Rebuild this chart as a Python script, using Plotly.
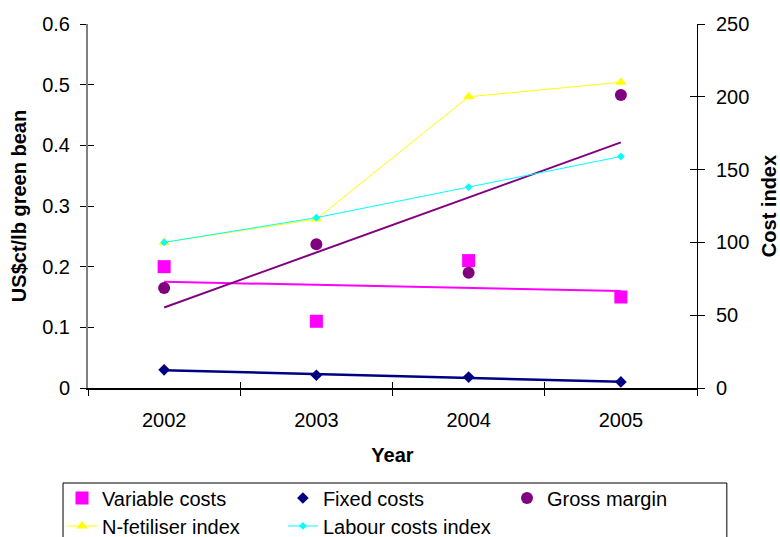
import numpy as np
import plotly.graph_objects as go

# ---- data -------------------------------------------------------------
years = ["2002", "2003", "2004", "2005"]
variable_costs = [0.20, 0.11, 0.21, 0.15]      # US$ct/lb green bean
fixed_costs = [0.030, 0.021, 0.018, 0.010]     # US$ct/lb green bean
gross_margin = [0.165, 0.237, 0.190, 0.483]    # US$ct/lb green bean
n_fertiliser_index = [100, 116, 200, 210]      # cost index
labour_costs_index = [100, 117, 138, 159]      # cost index

left_ticks = [0, 0.1, 0.2, 0.3, 0.4, 0.5, 0.6]
right_ticks = [0, 50, 100, 150, 200, 250]

FONT = "Liberation Sans, Arial, sans-serif"
MAGENTA, NAVY, PURPLE = "#FF00FF", "#000080", "#800080"
YELLOW, CYAN = "#FFFF00", "#00FFFF"


def linear_trend(values):
    """Least-squares straight line over the category positions."""
    xs = np.arange(len(values))
    slope, intercept = np.polyfit(xs, values, 1)
    return list(intercept + slope * xs)


fig = go.Figure()

# linear trend lines
for vals, col, w in [(variable_costs, MAGENTA, 2),
                     (fixed_costs, NAVY, 2.5),
                     (gross_margin, PURPLE, 2)]:
    fig.add_trace(go.Scatter(x=years, y=linear_trend(vals), mode="lines",
                             line=dict(color=col, width=w),
                             showlegend=False, hoverinfo="skip"))

# left-axis markers
fig.add_trace(go.Scatter(x=years, y=variable_costs, mode="markers",
                         name="Variable costs", legend="legend",
                         marker=dict(symbol="square", size=13, color=MAGENTA)))
fig.add_trace(go.Scatter(x=years, y=fixed_costs, mode="markers",
                         name="Fixed costs", legend="legend2",
                         marker=dict(symbol="diamond", size=9, color=NAVY)))
fig.add_trace(go.Scatter(x=years, y=gross_margin, mode="markers",
                         name="Gross margin", legend="legend3",
                         marker=dict(symbol="circle", size=12, color=PURPLE)))

# right-axis index series
fig.add_trace(go.Scatter(x=years, y=n_fertiliser_index, mode="lines+markers",
                         name="N-fetiliser index", legend="legend4", yaxis="y2",
                         line=dict(color=YELLOW, width=1),
                         marker=dict(symbol="triangle-up", size=10, color=YELLOW)))
fig.add_trace(go.Scatter(x=years, y=labour_costs_index, mode="lines+markers",
                         name="Labour costs index", legend="legend5", yaxis="y2",
                         line=dict(color=CYAN, width=1),
                         marker=dict(symbol="diamond", size=6, color=CYAN)))

# empty helpers so the inner half of each tick mark is drawn too
fig.add_trace(go.Scatter(x=years, y=[None] * 4, xaxis="x2", yaxis="y3",
                         showlegend=False, hoverinfo="skip"))
fig.add_trace(go.Scatter(x=years, y=[None] * 4, xaxis="x2", yaxis="y4",
                         showlegend=False, hoverinfo="skip"))

tick_font = dict(family=FONT, size=20, color="black")
title_font = dict(family=FONT, size=20, color="black")

fig.update_layout(
    width=780, height=537,
    margin=dict(l=88, r=83, t=24, b=149, autoexpand=False),
    paper_bgcolor="white", plot_bgcolor="white",
    font=dict(family=FONT, size=20, color="black"),
    xaxis=dict(type="category", categoryorder="array", categoryarray=years,
               range=[-0.5, 3.5], tickson="boundaries",
               ticks="outside", ticklen=6, tickcolor="black",
               showline=True, linecolor="black", linewidth=1.5,
               showgrid=False, zeroline=False, tickfont=tick_font,
               ticklabelstandoff=13,
               title=dict(text="<b>Year</b>", font=title_font, standoff=18)),
    xaxis2=dict(type="category", categoryorder="array", categoryarray=years,
                range=[-0.5, 3.5], tickson="boundaries", overlaying="x",
                ticks="inside", ticklen=6, tickcolor="black",
                showticklabels=False, showline=False, showgrid=False,
                zeroline=False),
    yaxis=dict(range=[0, 0.6], tickvals=left_ticks,
               ticks="outside", ticklen=6, tickcolor="black",
               showline=True, linecolor="#808080", linewidth=2,
               showgrid=False, zeroline=False, tickfont=tick_font,
               ticklabelstandoff=6,
               title=dict(text="<b>US$ct/lb green bean</b>", font=title_font,
                          standoff=10)),
    yaxis2=dict(range=[0, 250], tickvals=right_ticks, overlaying="y",
                side="right", ticks="outside", ticklen=7, tickcolor="black",
                showline=True, linecolor="black", linewidth=1,
                showgrid=False, zeroline=False, tickfont=tick_font,
                ticklabelstandoff=7,
                title=dict(text="<b>Cost index</b>", font=title_font,
                           standoff=13)),
    yaxis3=dict(range=[0, 0.6], tickvals=left_ticks, overlaying="y",
                anchor="x2", side="left", ticks="inside", ticklen=6,
                tickcolor="black", showticklabels=False, showline=False,
                showgrid=False, zeroline=False),
    yaxis4=dict(range=[0, 250], tickvals=right_ticks, overlaying="y",
                anchor="x2", side="right", ticks="inside", ticklen=7,
                tickcolor="black", showticklabels=False, showline=False,
                showgrid=False, zeroline=False),
    shapes=[dict(type="rect", xref="paper", yref="paper",
                 x0=-0.041, x1=1.049, y0=-0.261, y1=-0.48,
                 line=dict(color="black", width=1), fillcolor="rgba(0,0,0,0)")],
)

# one legend per entry so the three columns line up
legend_style = dict(bgcolor="rgba(0,0,0,0)", borderwidth=0,
                    font=dict(family=FONT, size=20, color="black"),
                    xanchor="left", yanchor="middle", orientation="v")
col_x = [-0.0427, 0.320, 0.688]
row_y = [-0.3022, -0.379]
fig.update_layout(
    legend=dict(x=col_x[0], y=row_y[0], **legend_style),
    legend2=dict(x=col_x[1], y=row_y[0], **legend_style),
    legend3=dict(x=col_x[2], y=row_y[0], **legend_style),
    legend4=dict(x=col_x[0], y=row_y[1], **legend_style),
    legend5=dict(x=col_x[1], y=row_y[1], **legend_style),
)

fig.write_html("out.html")
